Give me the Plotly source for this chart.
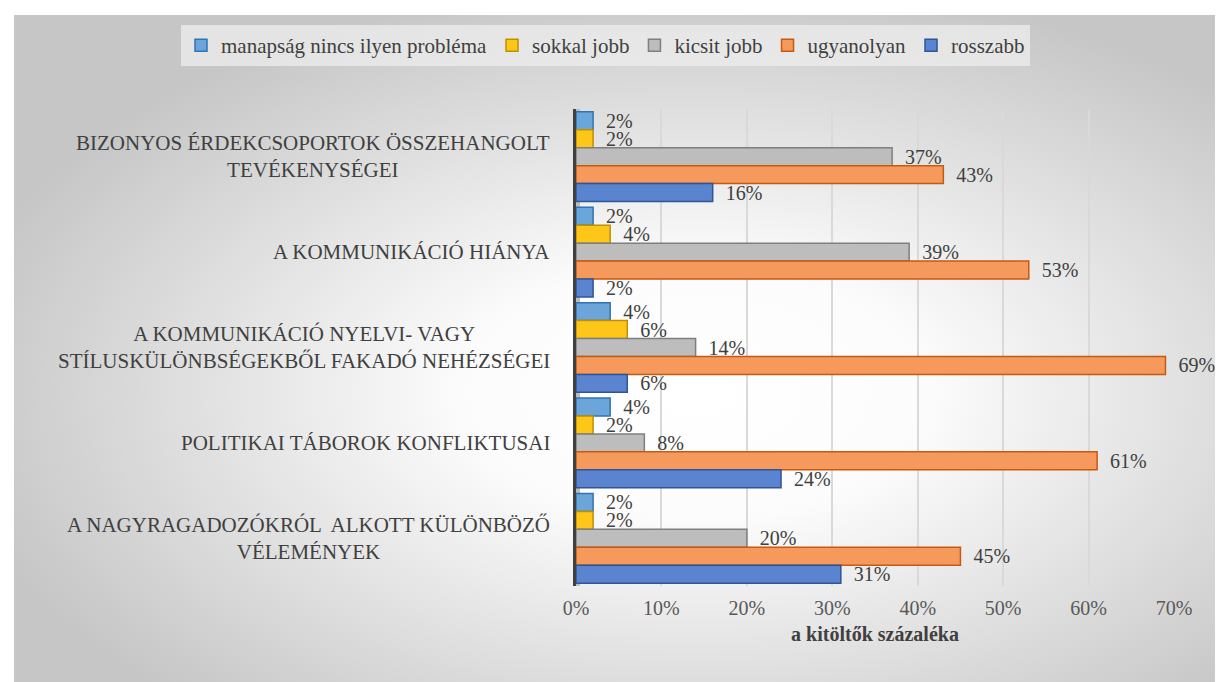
import base64
import plotly.graph_objects as go

categories = [
    "BIZONYOS ÉRDEKCSOPORTOK ÖSSZEHANGOLT<br>TEVÉKENYSÉGEI",
    "A KOMMUNIKÁCIÓ HIÁNYA",
    "A KOMMUNIKÁCIÓ NYELVI- VAGY<br>STÍLUSKÜLÖNBSÉGEKBŐL FAKADÓ NEHÉZSÉGEI",
    "POLITIKAI TÁBOROK KONFLIKTUSAI",
    "A NAGYRAGADOZÓKRÓL  ALKOTT KÜLÖNBÖZŐ<br>VÉLEMÉNYEK",
]
series_names = ["manapság nincs ilyen probléma", "sokkal jobb", "kicsit jobb", "ugyanolyan", "rosszabb"]
manapsag = [2, 2, 4, 4, 2]
sokkal_jobb = [2, 4, 6, 2, 2]
kicsit_jobb = [37, 39, 14, 8, 20]
ugyanolyan = [43, 53, 69, 61, 45]
rosszabb = [16, 2, 6, 24, 31]
tick_vals = [0, 10, 20, 30, 40, 50, 60, 70]
tick_text = ["0%", "10%", "20%", "30%", "40%", "50%", "60%", "70%"]
x_title = "a kitöltők százaléka"

values = [manapsag, sokkal_jobb, kicsit_jobb, ugyanolyan, rosszabb]
fills = ["#6BA5DA", "#FFC61A", "#BDBDBD", "#F59A5C", "#5A84CF"]
lines = ["#2E75B6", "#BF9000", "#7F7F7F", "#C55A11", "#2F5597"]

FONT = "Liberation Serif"
W, H = 1223, 682
L, R, T, B = 568, 57, 101, 104
pw, ph = W - L - R, H - T - B

def px_x(x):
    return (x - L) / pw

def px_y(y):
    return (H - B - y) / ph

fig = go.Figure()
for name, vals, fc, lc in zip(series_names, values, fills, lines):
    fig.add_trace(go.Bar(
        y=categories, x=vals, name=name, orientation="h",
        marker=dict(color=fc, line=dict(color=lc, width=1.5)),
        text=["\u00a0\u00a0" + f"{v}%" for v in vals],
        texttemplate="%{text}", textposition="outside", constraintext="none",
        cliponaxis=False,
        textfont=dict(family=FONT, size=20, color="#404040"),
        hoverinfo="skip",
    ))

svg = """<svg xmlns='http://www.w3.org/2000/svg' width='1217' height='675' preserveAspectRatio='none' viewBox='0 0 1217 675'>
<defs><radialGradient id='g' cx='0.56' cy='0.56' r='0.62' gradientUnits='objectBoundingBox'>
<stop offset='0' stop-color='#ffffff'/><stop offset='0.3' stop-color='#fcfcfc'/>
<stop offset='1' stop-color='#c6c6c6'/></radialGradient></defs>
<rect width='1217' height='675' fill='url(#g)'/></svg>"""
src = "data:image/svg+xml;base64," + base64.b64encode(svg.encode()).decode()

fig.add_layout_image(dict(
    source=src, xref="paper", yref="paper",
    x=px_x(6), y=px_y(7), sizex=1217 / pw, sizey=675 / ph,
    xanchor="left", yanchor="top", sizing="stretch", layer="below",
))
# light "wall" strip next to the axis line
fig.add_shape(type="rect", xref="paper", yref="paper",
              x0=0, x1=px_x(572), y0=0, y1=1,
              fillcolor="#bdbdbd", line=dict(width=0), layer="below")

for c in categories:
    fig.add_annotation(x=0, xref="paper", y=c, yref="y", text=c, showarrow=False,
                       xanchor="right", yanchor="middle", align="center", xshift=-24,
                       font=dict(family=FONT, size=21, color="#404040"))

fig.update_layout(
    width=W, height=H,
    margin=dict(l=L, r=R, t=T, b=B, autoexpand=False),
    paper_bgcolor="white", plot_bgcolor="rgba(0,0,0,0)",
    barmode="group", bargap=0.06, bargroupgap=0,
    font=dict(family=FONT, size=20, color="#404040"),
    showlegend=True,
    legend=dict(orientation="h", xref="paper", yref="paper",
                x=px_x(173), xanchor="left", y=px_y(17), yanchor="top",
                bgcolor="rgba(238,238,238,0.75)",
                font=dict(family=FONT, size=21, color="#404040"),
                itemwidth=30, traceorder="normal"),
    xaxis=dict(range=[0, 70], tickvals=tick_vals, ticktext=tick_text,
               showgrid=True, gridcolor="#d9d9d9", gridwidth=1.5, zeroline=False,
               ticks="outside", ticklen=4, tickcolor="rgba(0,0,0,0)",
               tickfont=dict(family=FONT, size=20, color="#595959"),
               title=dict(text="<b>" + x_title + "</b>", standoff=8,
                          font=dict(family=FONT, size=20, color="#404040"))),
    yaxis=dict(autorange="reversed", showticklabels=False, showgrid=False,
               showline=True, linecolor="#404040", linewidth=3, zeroline=False),
)

fig.write_html("out.html")
